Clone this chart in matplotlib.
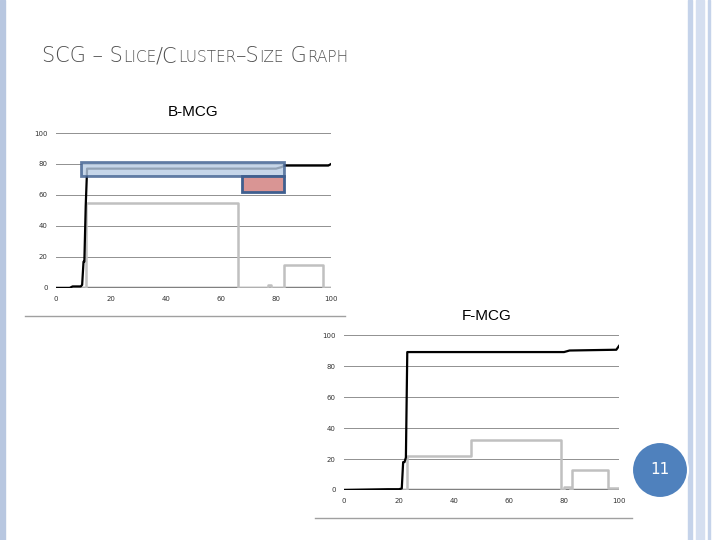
import matplotlib.pyplot as plt
from matplotlib.patches import Rectangle, Ellipse
from matplotlib.lines import Line2D

# B-MCG
b_black_x = [0, 5, 6, 9, 9.5, 10, 10.3, 10.8, 11.3, 80, 82, 83, 99, 100]
b_black_y = [0, 0, 1, 1, 2, 17, 17, 53, 77, 77, 78, 79, 79, 80]
b_gray_x = [0, 11, 11, 66, 66, 77, 77, 78, 78, 83, 83, 97, 97, 100]
b_gray_y = [0, 0, 55, 55, 0, 0, 2, 2, 0, 0, 15, 15, 0, 0]

# F-MCG
f_black_x = [0, 16, 20, 21, 21.5, 22, 22.5, 23, 80, 82, 99, 100]
f_black_y = [0, 0.5, 0.5, 1, 18, 18, 21, 89, 89, 90, 90.5, 93]
f_gray_x = [0, 23, 23, 46, 46, 79, 79, 80, 80, 82, 82, 83, 83, 96, 96, 100]
f_gray_y = [0, 0, 22, 22, 32, 32, 0, 0, 2, 2, 0, 0, 13, 13, 1, 1]

ticks = [0, 20, 40, 60, 80, 100]

fig = plt.figure(figsize=(7.2, 5.4), dpi=100)
fig.patch.set_facecolor("white")


def draw(ax, bx, by, gx, gy):
    ax.plot([0, 100], [0, 0], color="#808080", lw=2.5, zorder=2)
    ax.plot(gx, gy, color="#c0c0c0", lw=1.8, zorder=3)
    ax.plot(bx, by, color="black", lw=1.6, zorder=4)
    ax.set_xlim(0, 100)
    ax.set_ylim(0, 100)
    ax.set_xticks(ticks)
    ax.set_yticks(ticks)
    ax.tick_params(labelsize=5, length=0, colors="#333333", pad=6)
    ax.grid(axis="y", color="#909090", lw=0.7)
    for s in ax.spines.values():
        s.set_visible(False)
    ax.set_axisbelow(True)


ax1 = fig.add_axes([0.0778, 0.4667, 0.382, 0.287])
draw(ax1, b_black_x, b_black_y, b_gray_x, b_gray_y)
ax1.add_patch(Rectangle((9, 72), 74, 9, facecolor="#b8cce4", edgecolor="#3f5f8f", lw=2, alpha=0.8, zorder=5))
ax1.add_patch(Rectangle((67.5, 62), 15.5, 10, facecolor="#d99594", edgecolor="#3f5f8f", lw=2, zorder=5))

ax2 = fig.add_axes([0.4778, 0.0926, 0.382, 0.287])
draw(ax2, f_black_x, f_black_y, f_gray_x, f_gray_y)

# slide decorations
fig.add_artist(Line2D([25 / 720, 345 / 720], [1 - 316 / 540] * 2, color="#a0a0a0", lw=1))
fig.add_artist(Line2D([315 / 720, 632 / 720], [1 - 518 / 540] * 2, color="#a0a0a0", lw=1))
fig.add_artist(Rectangle((0, 0), 5 / 720, 1, color="#b8c7e0"))
fig.add_artist(Rectangle((688 / 720, 0), 4 / 720, 1, color="#c5d3ea"))
fig.add_artist(Rectangle((696 / 720, 0), 8 / 720, 1, color="#d5dff0"))
fig.add_artist(Rectangle((708 / 720, 0), 2 / 720, 1, color="#c5d3ea"))
fig.add_artist(Ellipse((660 / 720, 1 - 470 / 540), 56 / 720, 56 / 540, transform=fig.transFigure,
                       facecolor="#4f81bd", edgecolor="white", lw=1.5))
fig.text(660 / 720, 1 - 470 / 540, "11", color="white", fontsize=11, ha="center", va="center")

fig.text(193 / 720, 1 - 112 / 540, "B-MCG", fontsize=11, ha="center", va="center", family="Liberation Sans")
fig.text(487 / 720, 1 - 316 / 540, "F-MCG", fontsize=11, ha="center", va="center", family="Liberation Sans")

# small-caps title
parts = [("SCG – S", 15), ("LICE", 11), ("/C", 15), ("LUSTER", 11), ("–S", 15), ("IZE", 11), (" G", 15), ("RAPH", 11)]
x = 42
rend = fig.canvas.get_renderer()
for s, fs in parts:
    t = fig.text(x / 720, 1 - 62 / 540, s, fontsize=fs, color="#505050", ha="left", va="baseline",
                 family="DejaVu Sans", fontweight="light")
    bb = t.get_window_extent(renderer=rend)
    x += bb.width

fig.savefig("out.png", dpi=100)
